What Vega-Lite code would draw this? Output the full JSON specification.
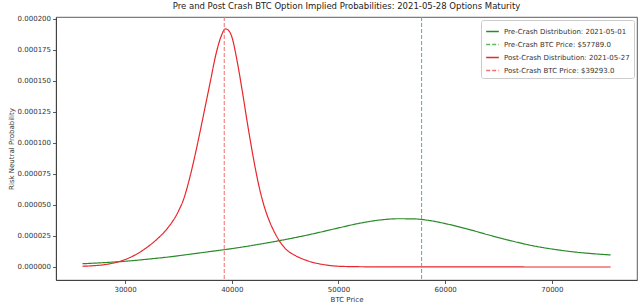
{
  "$schema": "https://vega.github.io/schema/vega-lite/v6.json",
  "width": 581,
  "height": 263,
  "autosize": {"type": "none"},
  "padding": {"left": 56, "top": 17, "right": 5, "bottom": 23},
  "title": {"text": "Pre and Post Crash BTC Option Implied Probabilities: 2021-05-28 Options Maturity", "fontSize": 8.5, "fontWeight": "normal", "font": "DejaVu Sans", "color": "#222", "offset": 4, "anchor": "middle"},
  "datasets": {
    "curves": [
      {"price": 26000, "prob": 2.6e-6, "series": "Pre-Crash Distribution: 2021-05-01"},
      {"price": 28000, "prob": 3.5e-6, "series": "Pre-Crash Distribution: 2021-05-01"},
      {"price": 30000, "prob": 4.6e-6, "series": "Pre-Crash Distribution: 2021-05-01"},
      {"price": 32000, "prob": 6.2e-6, "series": "Pre-Crash Distribution: 2021-05-01"},
      {"price": 34000, "prob": 8.0e-6, "series": "Pre-Crash Distribution: 2021-05-01"},
      {"price": 36000, "prob": 10.2e-6, "series": "Pre-Crash Distribution: 2021-05-01"},
      {"price": 38000, "prob": 12.5e-6, "series": "Pre-Crash Distribution: 2021-05-01"},
      {"price": 40000, "prob": 14.8e-6, "series": "Pre-Crash Distribution: 2021-05-01"},
      {"price": 42000, "prob": 17.5e-6, "series": "Pre-Crash Distribution: 2021-05-01"},
      {"price": 44000, "prob": 20.5e-6, "series": "Pre-Crash Distribution: 2021-05-01"},
      {"price": 46000, "prob": 23.8e-6, "series": "Pre-Crash Distribution: 2021-05-01"},
      {"price": 48000, "prob": 27.5e-6, "series": "Pre-Crash Distribution: 2021-05-01"},
      {"price": 50000, "prob": 31.5e-6, "series": "Pre-Crash Distribution: 2021-05-01"},
      {"price": 52000, "prob": 35.3e-6, "series": "Pre-Crash Distribution: 2021-05-01"},
      {"price": 54000, "prob": 38.0e-6, "series": "Pre-Crash Distribution: 2021-05-01"},
      {"price": 55500, "prob": 38.9e-6, "series": "Pre-Crash Distribution: 2021-05-01"},
      {"price": 57000, "prob": 38.8e-6, "series": "Pre-Crash Distribution: 2021-05-01"},
      {"price": 58500, "prob": 37.5e-6, "series": "Pre-Crash Distribution: 2021-05-01"},
      {"price": 60000, "prob": 35.0e-6, "series": "Pre-Crash Distribution: 2021-05-01"},
      {"price": 62000, "prob": 30.8e-6, "series": "Pre-Crash Distribution: 2021-05-01"},
      {"price": 64000, "prob": 26.0e-6, "series": "Pre-Crash Distribution: 2021-05-01"},
      {"price": 66000, "prob": 21.5e-6, "series": "Pre-Crash Distribution: 2021-05-01"},
      {"price": 68000, "prob": 17.5e-6, "series": "Pre-Crash Distribution: 2021-05-01"},
      {"price": 70000, "prob": 14.5e-6, "series": "Pre-Crash Distribution: 2021-05-01"},
      {"price": 72000, "prob": 12.2e-6, "series": "Pre-Crash Distribution: 2021-05-01"},
      {"price": 74000, "prob": 10.6e-6, "series": "Pre-Crash Distribution: 2021-05-01"},
      {"price": 75500, "prob": 9.7e-6, "series": "Pre-Crash Distribution: 2021-05-01"},
      {"price": 26000, "prob": 0.6e-6, "series": "Post-Crash Distribution: 2021-05-27"},
      {"price": 27000, "prob": 1.0e-6, "series": "Post-Crash Distribution: 2021-05-27"},
      {"price": 28000, "prob": 1.8e-6, "series": "Post-Crash Distribution: 2021-05-27"},
      {"price": 29000, "prob": 3.4e-6, "series": "Post-Crash Distribution: 2021-05-27"},
      {"price": 30000, "prob": 6.0e-6, "series": "Post-Crash Distribution: 2021-05-27"},
      {"price": 31000, "prob": 10.0e-6, "series": "Post-Crash Distribution: 2021-05-27"},
      {"price": 32000, "prob": 15.5e-6, "series": "Post-Crash Distribution: 2021-05-27"},
      {"price": 33000, "prob": 22.5e-6, "series": "Post-Crash Distribution: 2021-05-27"},
      {"price": 34000, "prob": 31.5e-6, "series": "Post-Crash Distribution: 2021-05-27"},
      {"price": 35000, "prob": 45e-6, "series": "Post-Crash Distribution: 2021-05-27"},
      {"price": 35500, "prob": 55e-6, "series": "Post-Crash Distribution: 2021-05-27"},
      {"price": 36000, "prob": 70e-6, "series": "Post-Crash Distribution: 2021-05-27"},
      {"price": 36500, "prob": 88e-6, "series": "Post-Crash Distribution: 2021-05-27"},
      {"price": 37000, "prob": 108e-6, "series": "Post-Crash Distribution: 2021-05-27"},
      {"price": 37500, "prob": 129e-6, "series": "Post-Crash Distribution: 2021-05-27"},
      {"price": 38000, "prob": 150e-6, "series": "Post-Crash Distribution: 2021-05-27"},
      {"price": 38500, "prob": 171e-6, "series": "Post-Crash Distribution: 2021-05-27"},
      {"price": 39000, "prob": 186e-6, "series": "Post-Crash Distribution: 2021-05-27"},
      {"price": 39400, "prob": 192e-6, "series": "Post-Crash Distribution: 2021-05-27"},
      {"price": 39600, "prob": 191.5e-6, "series": "Post-Crash Distribution: 2021-05-27"},
      {"price": 40000, "prob": 185.7e-6, "series": "Post-Crash Distribution: 2021-05-27"},
      {"price": 40500, "prob": 166e-6, "series": "Post-Crash Distribution: 2021-05-27"},
      {"price": 41000, "prob": 141e-6, "series": "Post-Crash Distribution: 2021-05-27"},
      {"price": 41500, "prob": 114e-6, "series": "Post-Crash Distribution: 2021-05-27"},
      {"price": 42000, "prob": 89e-6, "series": "Post-Crash Distribution: 2021-05-27"},
      {"price": 42500, "prob": 67e-6, "series": "Post-Crash Distribution: 2021-05-27"},
      {"price": 43000, "prob": 50e-6, "series": "Post-Crash Distribution: 2021-05-27"},
      {"price": 43500, "prob": 37.5e-6, "series": "Post-Crash Distribution: 2021-05-27"},
      {"price": 44000, "prob": 28e-6, "series": "Post-Crash Distribution: 2021-05-27"},
      {"price": 44500, "prob": 20.5e-6, "series": "Post-Crash Distribution: 2021-05-27"},
      {"price": 45000, "prob": 15e-6, "series": "Post-Crash Distribution: 2021-05-27"},
      {"price": 46000, "prob": 9e-6, "series": "Post-Crash Distribution: 2021-05-27"},
      {"price": 47000, "prob": 5.3e-6, "series": "Post-Crash Distribution: 2021-05-27"},
      {"price": 48000, "prob": 2.9e-6, "series": "Post-Crash Distribution: 2021-05-27"},
      {"price": 49000, "prob": 1.4e-6, "series": "Post-Crash Distribution: 2021-05-27"},
      {"price": 50000, "prob": 0.6e-6, "series": "Post-Crash Distribution: 2021-05-27"},
      {"price": 52000, "prob": 0.2e-6, "series": "Post-Crash Distribution: 2021-05-27"},
      {"price": 55000, "prob": 0.05e-6, "series": "Post-Crash Distribution: 2021-05-27"},
      {"price": 60000, "prob": 0.02e-6, "series": "Post-Crash Distribution: 2021-05-27"},
      {"price": 65000, "prob": 0.01e-6, "series": "Post-Crash Distribution: 2021-05-27"},
      {"price": 70000, "prob": 0, "series": "Post-Crash Distribution: 2021-05-27"},
      {"price": 75500, "prob": 0, "series": "Post-Crash Distribution: 2021-05-27"}
    ],
    "prices": [
      {"price": 57789.0, "series": "Pre-Crash BTC Price: $57789.0"},
      {"price": 39293.0, "series": "Post-Crash BTC Price: $39293.0"}
    ]
  },
  "layer": [
    {
      "data": {"name": "curves"},
      "mark": {"type": "line", "strokeWidth": 1.2, "interpolate": "monotone"},
      "encoding": {
        "x": {
          "field": "price", "type": "quantitative",
          "scale": {"domain": [23525, 77975], "nice": false, "zero": false},
          "axis": {"title": "BTC Price", "values": [30000, 40000, 50000, 60000, 70000], "format": "d"}
        },
        "y": {
          "field": "prob", "type": "quantitative",
          "scale": {"domain": [-0.0000105, 0.0002016], "nice": false, "zero": false},
          "axis": {"title": "Risk Neutral Probability", "values": [0, 0.000025, 0.00005, 0.000075, 0.0001, 0.000125, 0.00015, 0.000175, 0.0002], "format": ".6f"}
        },
        "color": {
          "field": "series", "type": "nominal",
          "scale": {
            "domain": ["Pre-Crash Distribution: 2021-05-01", "Pre-Crash BTC Price: $57789.0", "Post-Crash Distribution: 2021-05-27", "Post-Crash BTC Price: $39293.0"],
            "range": ["#2a8a2a", "#5cb85c", "#e8262b", "#f07070"]
          },
          "legend": {"title": null}
        },
        "strokeDash": {
          "field": "series", "type": "nominal",
          "scale": {
            "domain": ["Pre-Crash Distribution: 2021-05-01", "Pre-Crash BTC Price: $57789.0", "Post-Crash Distribution: 2021-05-27", "Post-Crash BTC Price: $39293.0"],
            "range": [[1, 0], [4, 2], [1, 0], [4, 2]]
          },
          "legend": {"title": null}
        }
      }
    },
    {
      "data": {"name": "prices"},
      "mark": {"type": "rule", "strokeWidth": 1},
      "encoding": {
        "x": {"field": "price", "type": "quantitative"},
        "color": {"field": "series", "type": "nominal"},
        "strokeDash": {"field": "series", "type": "nominal"}
      }
    }
  ],
  "resolve": {"scale": {"color": "shared", "strokeDash": "shared"}},
  "config": {
    "font": "DejaVu Sans",
    "view": {"stroke": "#333", "strokeWidth": 0.8},
    "axis": {
      "grid": false,
      "domainColor": "#333",
      "domainWidth": 0.8,
      "tickColor": "#333",
      "tickSize": 3.5,
      "tickWidth": 0.8,
      "labelFontSize": 7,
      "labelColor": "#333",
      "labelPadding": 2,
      "titleFontSize": 7,
      "titleFontWeight": "normal",
      "titleColor": "#333",
      "titlePadding": 3
    },
    "legend": {
      "orient": "top-right",
      "offset": 3,
      "padding": 4,
      "strokeColor": "#ccc",
      "fillColor": "white",
      "cornerRadius": 2,
      "symbolType": "stroke",
      "symbolSize": 160,
      "symbolStrokeWidth": 1.4,
      "labelFontSize": 7,
      "labelColor": "#333",
      "rowPadding": 2
    }
  }
}
